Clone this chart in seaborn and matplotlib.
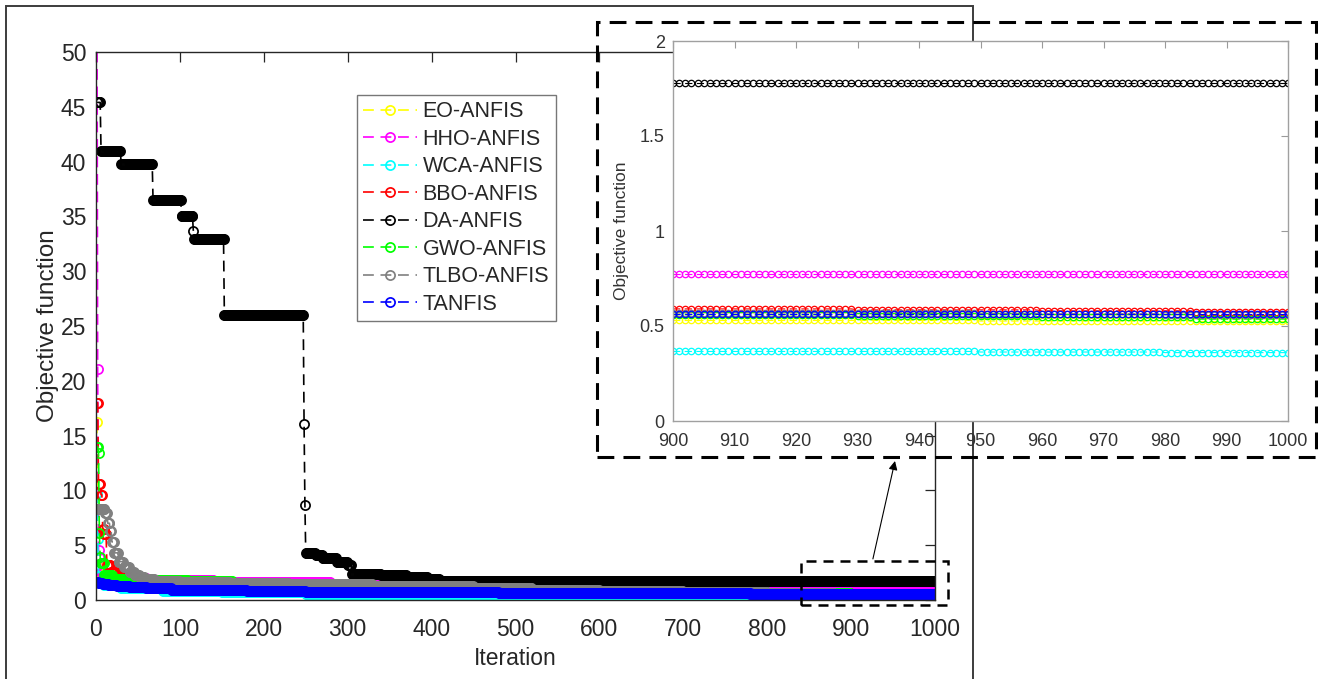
import numpy as np
import pandas as pd
import matplotlib
matplotlib.use("Agg")
import matplotlib.pyplot as plt
import matplotlib.patches as mpatches
import seaborn as sns

# ---------------- data (best-so-far values) ----------------
n_iter = 1000
algorithms = ["EO-ANFIS", "HHO-ANFIS", "WCA-ANFIS", "BBO-ANFIS",
              "DA-ANFIS", "GWO-ANFIS", "TLBO-ANFIS", "TANFIS"]
colors = ["#ffff00", "#ff00ff", "#00ffff", "#ff0000",
          "#000000", "#00ff00", "#808080", "#0000ff"]

# iteration at which each new best value starts, and that value
eo_steps = [1, 2, 3, 5, 8, 12, 20, 40, 80, 150, 250, 400, 600, 800, 900, 950, 985]
eo_vals = [16.2, 6.2, 3.0, 2.4, 2.1, 1.9, 1.6, 1.3, 1.1, 0.9, 0.75, 0.65, 0.58, 0.54, 0.529, 0.526, 0.524]

hho_steps = [1, 2, 3, 4, 6, 10, 60, 140, 280, 400, 520, 700, 850]
hho_vals = [62.0, 21.1, 4.6, 3.9, 2.6, 2.0, 1.85, 1.65, 1.45, 1.15, 0.95, 0.85, 0.775]

wca_steps = [1, 2, 3, 5, 10, 30, 80, 150, 250, 400, 600, 800, 900, 950, 980]
wca_vals = [9.8, 5.6, 2.2, 1.6, 1.4, 1.1, 0.85, 0.7, 0.55, 0.45, 0.4, 0.375, 0.366, 0.363, 0.36]

bbo_steps = [1, 3, 6, 8, 10, 13, 18, 25, 40, 80, 150, 250, 400, 600, 800, 900, 930, 960, 985]
bbo_vals = [18.0, 10.6, 9.6, 6.5, 6.0, 3.2, 2.6, 2.1, 1.8, 1.4, 1.1, 0.9, 0.75, 0.65, 0.6, 0.59, 0.585, 0.58, 0.576]

da_steps = [1, 6, 30, 68, 102, 116, 117, 153, 248, 249, 250, 262, 270, 287, 300, 305, 340, 370, 395, 410]
da_vals = [45.4, 41.0, 39.8, 36.5, 35.0, 33.7, 32.9, 26.0, 16.1, 8.7, 4.25, 4.1, 3.8, 3.5, 3.2, 2.35, 2.25, 2.1, 1.95, 1.777]

gwo_steps = [1, 3, 4, 5, 6, 10, 20, 60, 110, 163, 250, 400, 600, 800, 900, 930, 960, 985]
gwo_vals = [14.0, 13.4, 6.1, 3.9, 3.4, 2.3, 1.9, 1.8, 1.75, 1.35, 1.1, 0.85, 0.7, 0.6, 0.559, 0.552, 0.545, 0.536]

tlbo_steps = [1, 11, 14, 17, 19, 22, 27, 33, 40, 46, 52, 58, 70, 100, 160, 230, 330, 450, 520,
              600, 700, 800, 880, 900, 950, 980]
tlbo_vals = [8.3, 7.9, 7.0, 6.3, 5.3, 4.3, 3.5, 3.0, 2.6, 2.3, 2.1, 1.9, 1.7, 1.6, 1.52, 1.42, 1.28, 1.1, 0.9,
             0.82, 0.72, 0.64, 0.58, 0.57, 0.565, 0.56]

tanfis_steps = [1, 3, 8, 15, 25, 40, 60, 90, 130, 180, 250, 350, 480, 620, 780, 880]
tanfis_vals = [1.65, 1.55, 1.45, 1.35, 1.25, 1.15, 1.05, 0.95, 0.88, 0.82, 0.76, 0.7, 0.65, 0.61, 0.58, 0.564]

main_xticks = list(range(0, 1001, 100))
main_yticks = list(range(0, 51, 5))
inset_xticks = list(range(900, 1001, 10))
inset_yticks = [0, 0.5, 1, 1.5, 2]
inset_ytick_labels = ["0", "0.5", "1", "1.5", "2"]
zoom_box = (840, 1015, -0.45, 3.6)   # x0, x1, y0, y1 of the highlighted region


def expand(steps, vals, n=n_iter):
    """Hold each best-so-far value until the next improvement."""
    lengths = np.diff(list(steps) + [n + 1])
    return np.repeat(vals, lengths)


all_steps = [eo_steps, hho_steps, wca_steps, bbo_steps, da_steps, gwo_steps, tlbo_steps, tanfis_steps]
all_vals = [eo_vals, hho_vals, wca_vals, bbo_vals, da_vals, gwo_vals, tlbo_vals, tanfis_vals]
iters = np.arange(1, n_iter + 1)
frames = []
for name, st, va in zip(algorithms, all_steps, all_vals):
    frames.append(pd.DataFrame({"Iteration": iters, "Objective": expand(st, va), "Algorithm": name}))
df = pd.concat(frames, ignore_index=True)
palette = dict(zip(algorithms, colors))

# ---------------- style ----------------
sns.set_style("white")
plt.rcParams["font.family"] = ["Liberation Sans", "DejaVu Sans"]
plt.rcParams["axes.linewidth"] = 1.0

fig = plt.figure(figsize=(13.18, 6.79), dpi=100)

# outer frame of the original figure
fig.add_artist(mpatches.Rectangle((6 / 1318, -0.05), (973 - 6) / 1318, 1.05 - 6 / 679,
                                  transform=fig.transFigure, fill=False,
                                  edgecolor="#3c3c3c", lw=1.4, zorder=0))

ax = fig.add_axes([96 / 1318, 1 - 600 / 679, (935 - 96) / 1318, (600 - 52) / 679])
dash = (0, (6.5, 4))
sns.lineplot(data=df, x="Iteration", y="Objective", hue="Algorithm", hue_order=algorithms,
             palette=palette, estimator=None, sort=False, legend=False, ax=ax,
             linestyle=dash, linewidth=1.2, marker="o", markersize=6.6,
             markerfacecolor="none", markeredgewidth=1.25)
for ln, c in zip(ax.get_lines(), colors):
    ln.set_markeredgecolor(c)

ax.set_xlim(0, 1000)
ax.set_ylim(0, 50)
ax.set_xticks(main_xticks)
ax.set_yticks(main_yticks)
ax.tick_params(direction="in", length=7, width=0.9, top=True, right=True,
               labelsize=16.5, colors="#262626")
ax.tick_params(axis="x", pad=13)
ax.tick_params(axis="y", pad=7)
for sp in ax.spines.values():
    sp.set_color("#262626")
    sp.set_linewidth(1.0)
ax.set_xlabel("Iteration", fontsize=16.5, color="#262626", labelpad=4)
ax.set_ylabel("Objective function", fontsize=17.5, color="#262626", labelpad=1)

leg = ax.legend(ax.get_lines(), algorithms, loc="upper left",
                bbox_to_anchor=((357 - 96) / 839, (600 - 95) / 548), borderaxespad=0,
                fontsize=15.5, frameon=True, fancybox=False, edgecolor="#555555",
                handlelength=2.5, handletextpad=0.25, labelspacing=0.3, borderpad=0.3,
                numpoints=1)
leg.get_frame().set_linewidth(1.0)

# highlighted region and arrow to the inset
ax.add_patch(mpatches.Rectangle((zoom_box[0], zoom_box[2]), zoom_box[1] - zoom_box[0],
                                zoom_box[3] - zoom_box[2], fill=False, edgecolor="black",
                                lw=1.8, linestyle=(0, (4, 2.8)), clip_on=False, zorder=10))
ax.annotate("", xy=(895 / 1318, 1 - 461 / 679), xycoords="figure fraction",
            xytext=(926, zoom_box[3] + 0.15), textcoords="data",
            arrowprops=dict(arrowstyle="-|>", color="black", lw=0.8, mutation_scale=13,
                            shrinkA=0, shrinkB=0), annotation_clip=False, zorder=10)

# dashed frame around the inset
fig.add_artist(mpatches.Rectangle((597 / 1318, 1 - 457 / 679), (1316 - 597) / 1318, (457 - 22) / 679,
                                  transform=fig.transFigure, fill=False, edgecolor="black",
                                  lw=2.2, linestyle=(0, (5.5, 3)), zorder=20))

# ---------------- inset ----------------
axi = fig.add_axes([673 / 1318, 1 - 421 / 679, (1288 - 673) / 1318, (421 - 41) / 679])
axi.set_facecolor("white")
dfi = df[df["Iteration"] >= 900]
sns.lineplot(data=dfi, x="Iteration", y="Objective", hue="Algorithm", hue_order=algorithms,
             palette=palette, estimator=None, sort=False, legend=False, ax=axi,
             linestyle=dash, linewidth=0.8, marker="o", markersize=4.6,
             markerfacecolor="none", markeredgewidth=0.9)
for ln, c in zip(axi.get_lines(), colors):
    ln.set_markeredgecolor(c)
axi.set_xlim(900, 1000)
axi.set_ylim(0, 2)
axi.set_xticks(inset_xticks)
axi.set_yticks(inset_yticks)
axi.set_yticklabels(inset_ytick_labels)
axi.tick_params(direction="in", length=5, width=0.8, top=True, right=True,
                labelsize=13, colors="#9a9a9a", labelcolor="#333333")
axi.tick_params(axis="x", pad=9)
axi.tick_params(axis="y", pad=6)
for sp in axi.spines.values():
    sp.set_color("#a0a0a0")
    sp.set_linewidth(1.0)
axi.set_xlabel("")
axi.set_ylabel("Objective function", fontsize=12.5, color="#333333", labelpad=8)

fig.savefig("out.png", dpi=100)
